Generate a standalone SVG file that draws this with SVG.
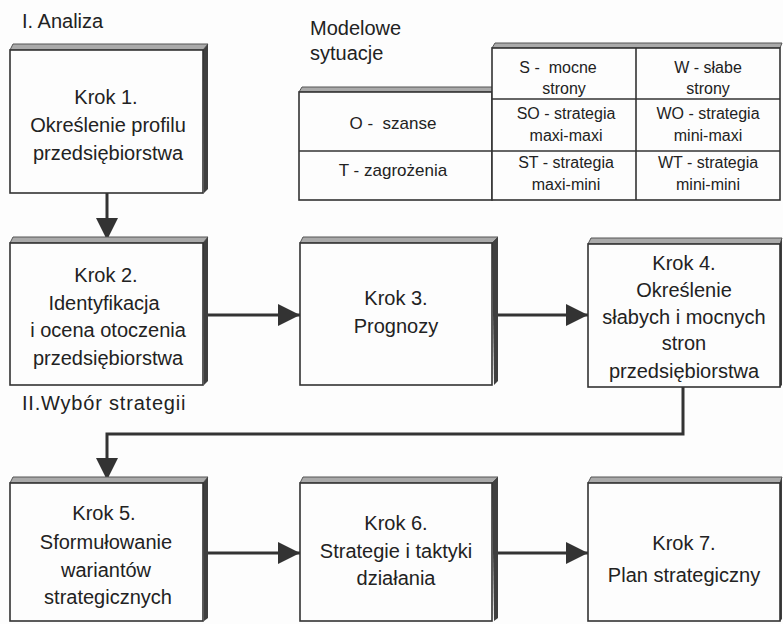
<svg xmlns="http://www.w3.org/2000/svg" width="783" height="624" viewBox="0 0 783 624">
<defs>
<marker id="ah" markerUnits="userSpaceOnUse" markerWidth="22" markerHeight="22" viewBox="0 0 22 22" refX="22" refY="11" orient="auto">
<path d="M0,0 L22,11 L0,22 Z" fill="#333"/>
</marker>
</defs>
<style>
.bg{fill:#fdfdfd}
.box{fill:#fdfdfd;stroke:#333;stroke-width:1.6}
.bev{fill:#aaa;stroke:#555;stroke-width:1}
.sh{fill:#3f3f3f}
.t{font-family:"Liberation Sans",Arial,sans-serif;font-size:20px;fill:#222;text-anchor:middle}
.h{font-family:"Liberation Sans",Arial,sans-serif;font-size:20px;fill:#222}
.s{font-family:"Liberation Sans",Arial,sans-serif;font-size:16px;fill:#222;text-anchor:middle}
.sl{font-size:17px}
.ln{fill:none;stroke:#333;stroke-width:1.6}
.c{fill:none;stroke:#333;stroke-width:3}
</style>
<rect class="bg" x="0" y="0" width="783" height="624"/>

<text class="h" x="22" y="28">I. Analiza</text>
<text class="h" x="310" y="35">Modelowe</text>
<text class="h" x="310" y="60">sytuacje</text>
<text class="h" x="22" y="410" style="letter-spacing:0.8px">II.Wybór strategii</text>

<g id="swot">
<polygon class="bev" points="299,92 302,87 494,87 492,92"/>
<polygon class="bev" points="492,48 495,43 782,43 780,48"/>
<rect class="box" x="299" y="92" width="193" height="108"/>
<rect class="box" x="492" y="48" width="288" height="152"/>
<line class="ln" x1="636" y1="48" x2="636" y2="200"/>
<line class="ln" x1="492" y1="99" x2="780" y2="99"/>
<line class="ln" x1="299" y1="151" x2="780" y2="151"/>
<text class="s" x="558" y="73" xml:space="preserve">S -  mocne</text>
<text class="s" x="564" y="94">strony</text>
<text class="s" x="708" y="73">W - słabe</text>
<text class="s" x="708" y="94">strony</text>
<text class="s sl" x="393" y="129" xml:space="preserve">O -  szanse</text>
<text class="s sl" x="393" y="176">T - zagrożenia</text>
<text class="s" x="566" y="119">SO - strategia</text>
<text class="s" x="566" y="141">maxi-maxi</text>
<text class="s" x="708" y="119">WO - strategia</text>
<text class="s" x="708" y="141">mini-maxi</text>
<text class="s" x="566" y="168">ST - strategia</text>
<text class="s" x="566" y="190">maxi-mini</text>
<text class="s" x="708" y="168">WT - strategia</text>
<text class="s" x="708" y="190">mini-mini</text>
</g>

<g id="connectors">
<line class="c" x1="107" y1="193" x2="107" y2="240" marker-end="url(#ah)"/>
<line class="c" x1="208" y1="315" x2="300" y2="315" marker-end="url(#ah)"/>
<line class="c" x1="497" y1="315" x2="588" y2="315" marker-end="url(#ah)"/>
<path class="c" d="M683,387 V434 H107 V480" marker-end="url(#ah)"/>
<line class="c" x1="208" y1="553" x2="300" y2="553" marker-end="url(#ah)"/>
<line class="c" x1="497" y1="553" x2="588" y2="553" marker-end="url(#ah)"/>
</g>

<g id="krok1">
<polygon class="bev" points="10,50 13,44 208,44 203,50"/>
<polygon class="sh" points="203,50 208,44 208,189 204,193"/>
<rect class="box" x="10" y="50" width="193" height="143"/>
<text class="t" x="106" y="104">Krok 1.</text>
<text class="t" x="108" y="132">Określenie profilu</text>
<text class="t" x="108" y="160">przedsiębiorstwa</text>
</g>

<g id="krok2">
<polygon class="bev" points="10,243 13,237 208,237 203,243"/>
<polygon class="sh" points="203,243 208,237 208,381 204,385"/>
<rect class="box" x="10" y="243" width="193" height="142"/>
<text class="t" x="106" y="282">Krok 2.</text>
<text class="t" x="104" y="310">Identyfikacja</text>
<text class="t" x="108" y="337">i ocena otoczenia</text>
<text class="t" x="108" y="365">przedsiębiorstwa</text>
</g>

<g id="krok3">
<polygon class="bev" points="300,243 303,237 498,237 492,243"/>
<polygon class="sh" points="492,243 498,237 498,381 494,385"/>
<rect class="box" x="300" y="243" width="192" height="142"/>
<text class="t" x="396" y="305">Krok 3.</text>
<text class="t" x="396" y="333">Prognozy</text>
</g>

<g id="krok4">
<polygon class="bev" points="588,244 591,238 782,238 780,244"/>
<polygon class="sh" points="780,244 782,238 782,385 780,387"/>
<rect class="box" x="588" y="244" width="192" height="143"/>
<text class="t" x="684" y="270">Krok 4.</text>
<text class="t" x="684" y="297">Określenie</text>
<text class="t" x="684" y="324">słabych i mocnych</text>
<text class="t" x="684" y="350">stron</text>
<text class="t" x="684" y="378">przedsiębiorstwa</text>
</g>

<g id="krok5">
<polygon class="bev" points="10,483 13,477 208,477 203,483"/>
<polygon class="sh" points="203,483 208,477 208,618 204,621"/>
<rect class="box" x="10" y="483" width="193" height="138"/>
<text class="t" x="104" y="520">Krok 5.</text>
<text class="t" x="106" y="549">Sformułowanie</text>
<text class="t" x="106" y="577">wariantów</text>
<text class="t" x="108" y="604">strategicznych</text>
</g>

<g id="krok6">
<polygon class="bev" points="300,483 303,477 498,477 492,483"/>
<polygon class="sh" points="492,483 498,477 498,618 494,621"/>
<rect class="box" x="300" y="483" width="192" height="138"/>
<text class="t" x="396" y="530">Krok 6.</text>
<text class="t" x="396" y="558">Strategie i taktyki</text>
<text class="t" x="396" y="585">działania</text>
</g>

<g id="krok7">
<polygon class="bev" points="588,483 591,477 782,477 780,483"/>
<polygon class="sh" points="780,483 782,477 782,619 780,621"/>
<rect class="box" x="588" y="483" width="192" height="138"/>
<text class="t" x="684" y="550">Krok 7.</text>
<text class="t" x="684" y="582">Plan strategiczny</text>
</g>
</svg>
